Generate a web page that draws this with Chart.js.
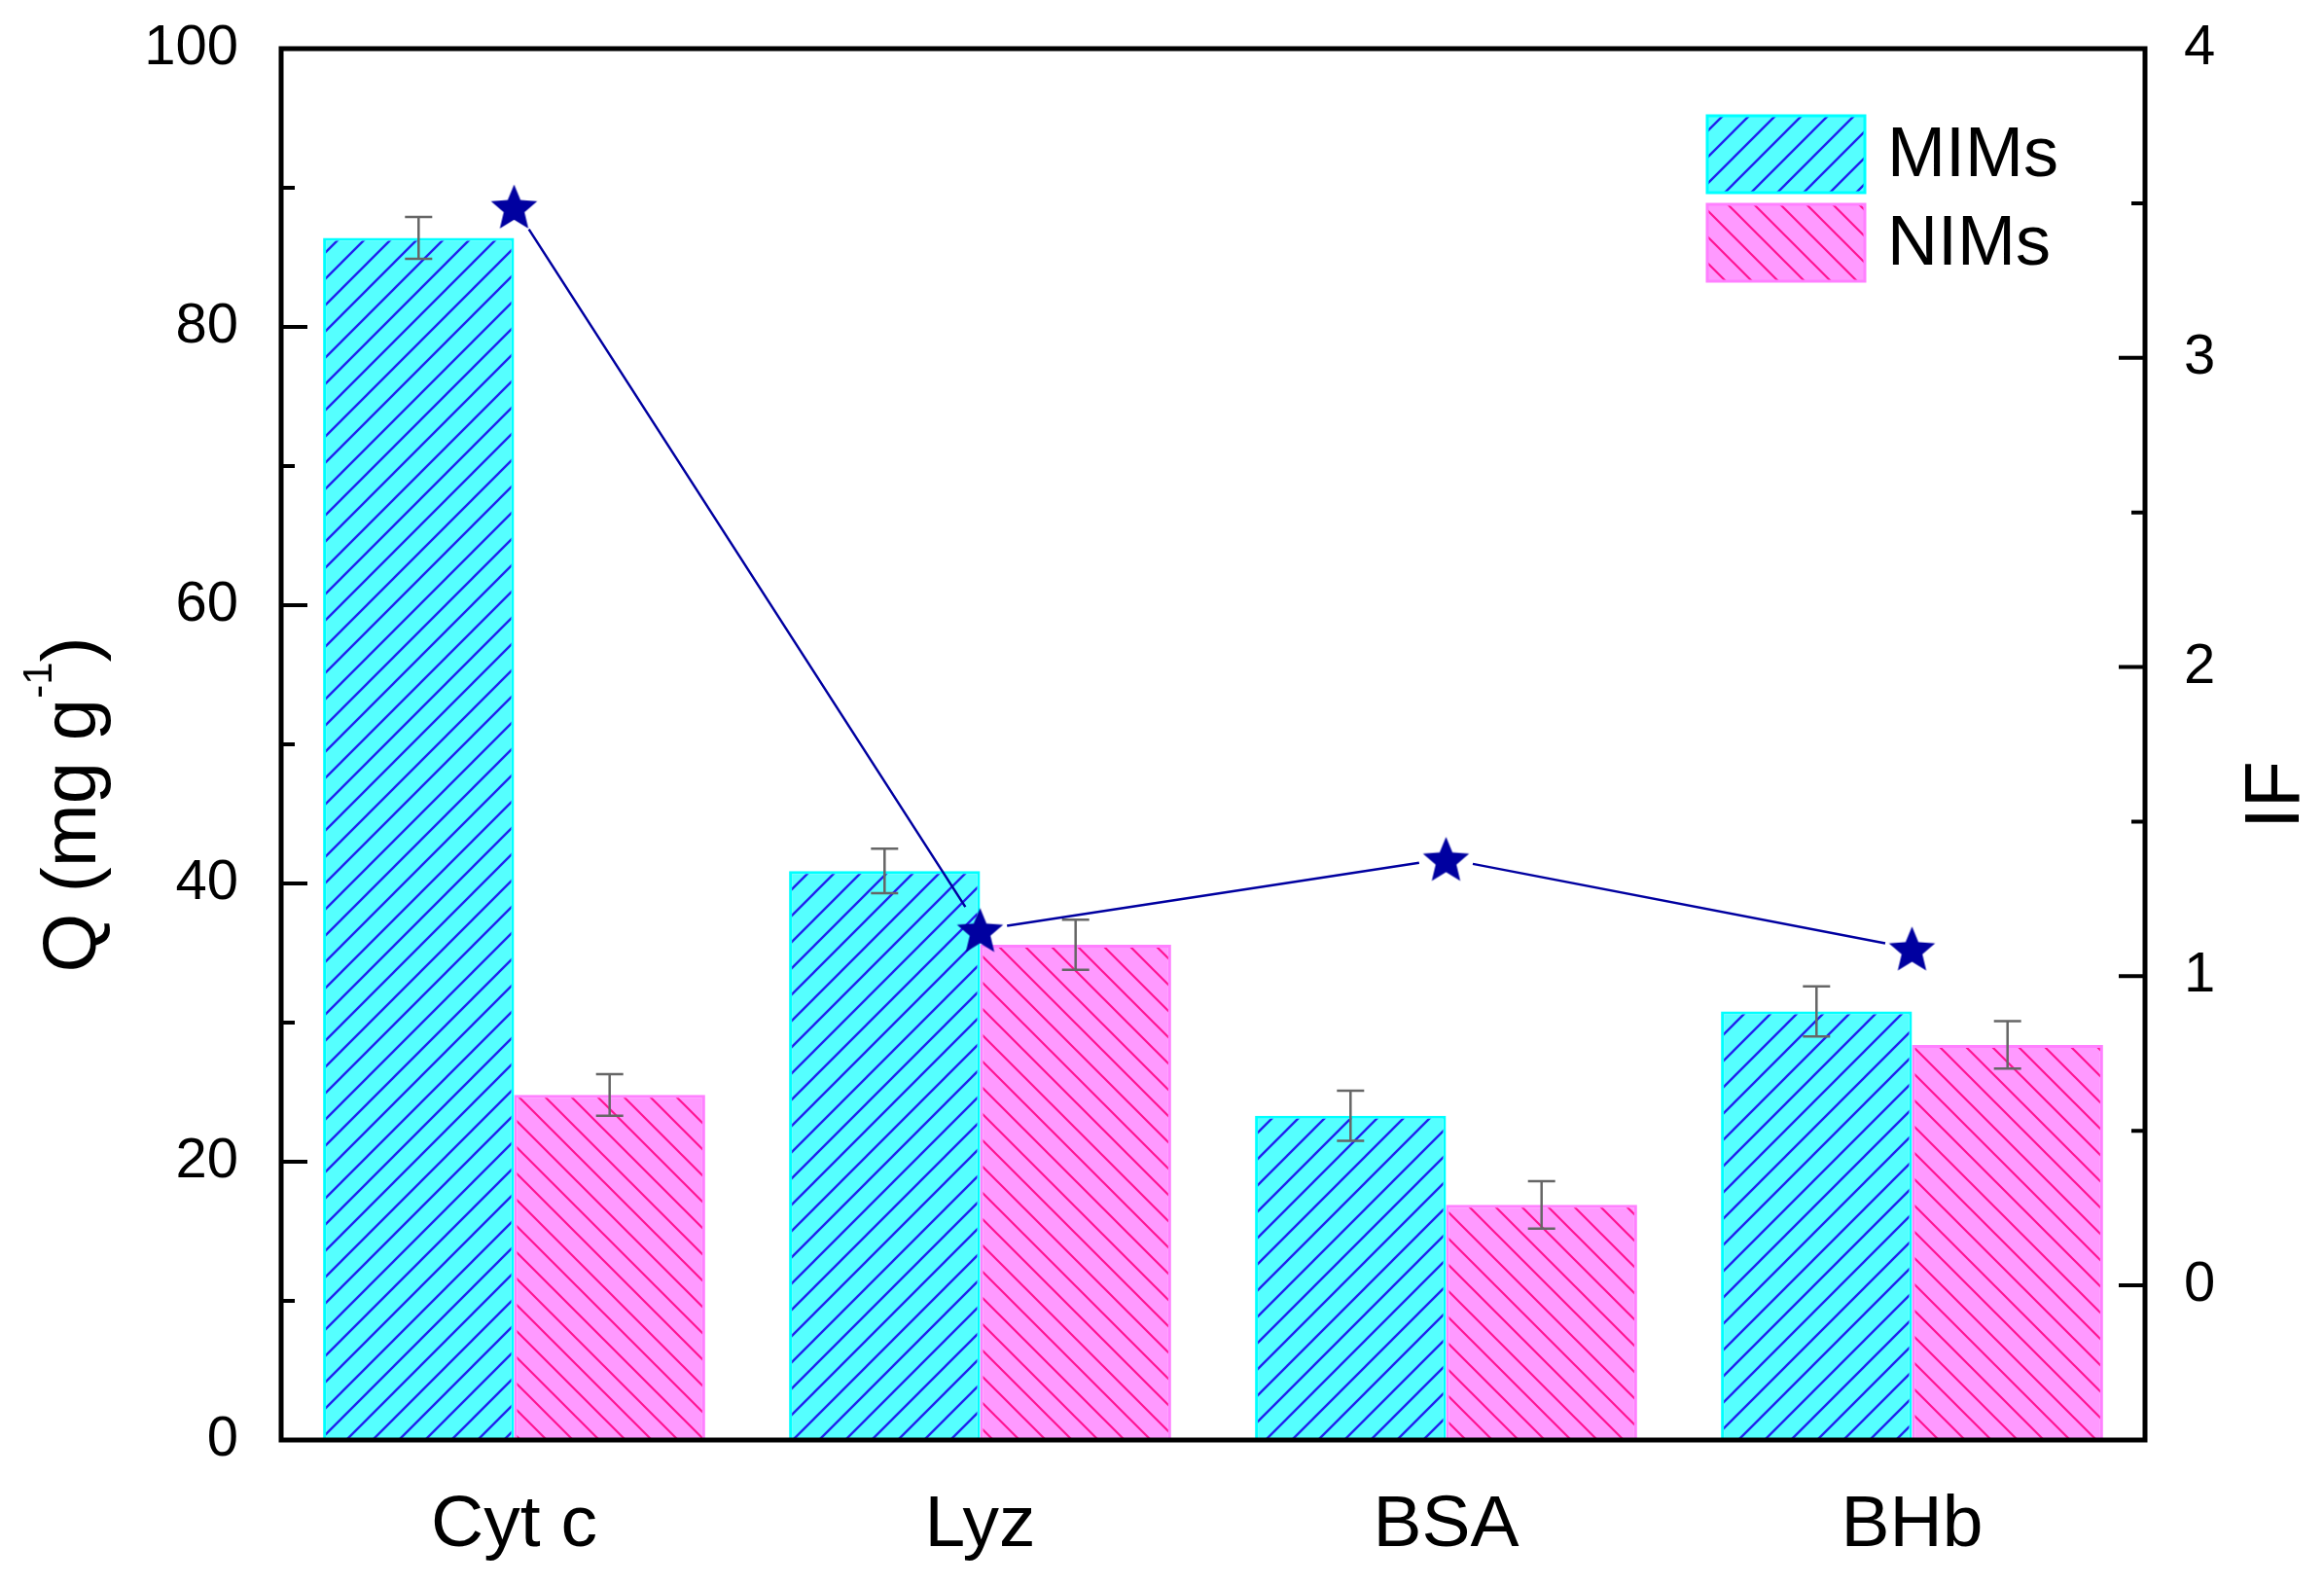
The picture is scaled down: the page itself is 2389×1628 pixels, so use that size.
<!DOCTYPE html>
<html>
<head>
<meta charset="utf-8">
<script src="https://cdn.jsdelivr.net/npm/chart.js@4.4.0/dist/chart.umd.min.js"></script>
<style>
html, body { margin: 0; padding: 0; background: #fff; }
#wrap { width: 2389px; height: 1628px; }
</style>
</head>
<body>
<div id="wrap"><canvas id="chart"></canvas></div>
<script>
const proteins = ['Cyt c', 'Lyz', 'BSA', 'BHb'];
const mimsQ = [86.4, 40.9, 23.3, 30.8];
const mimsErr = [1.5, 1.6, 1.8, 1.8];
const nimsQ = [24.8, 35.6, 16.9, 28.4];
const nimsErr = [1.5, 1.8, 1.7, 1.7];
const imprintFactor = [3.49, 1.15, 1.38, 1.09];
const qTicks = [0, 20, 40, 60, 80, 100];
const qMinor = [10, 30, 50, 70, 90];
const ifTicks = [0, 1, 2, 3, 4];
const ifMinor = [0.5, 1.5, 2.5, 3.5];

const fam = '"Liberation Sans", Arial, sans-serif';
const canvas = document.getElementById('chart');
const ctx = canvas.getContext('2d');

// diagonal hatch tile, dir 1 = "/", -1 = "\"
function hatch(bg, fg, dir, lw) {
    const s = 27;
    const c = document.createElement('canvas');
    c.width = s;
    c.height = s;
    const g = c.getContext('2d');
    g.fillStyle = bg;
    g.fillRect(0, 0, s, s);
    g.strokeStyle = fg;
    g.lineWidth = lw;
    g.beginPath();
    if (dir > 0) {
        g.moveTo(-3, s + 3); g.lineTo(s + 3, -3);
        g.moveTo(-3, 3); g.lineTo(3, -3);
        g.moveTo(s - 3, s + 3); g.lineTo(s + 3, s - 3);
    } else {
        g.moveTo(-3, -3); g.lineTo(s + 3, s + 3);
        g.moveTo(s - 3, -3); g.lineTo(s + 3, 3);
        g.moveTo(-3, s - 3); g.lineTo(3, s + 3);
    }
    g.stroke();
    return ctx.createPattern(c, 'repeat');
}

function starImage(r, color) {
    const size = Math.ceil(r * 2 + 4);
    const c = document.createElement('canvas');
    c.width = size;
    c.height = size;
    const g = c.getContext('2d');
    g.translate(size / 2, size / 2 + r * 0.1);
    g.beginPath();
    for (let i = 0; i < 10; i++) {
        const rad = i % 2 === 0 ? r : r * 0.45;
        const a = -Math.PI / 2 + i * Math.PI / 5;
        g.lineTo(rad * Math.cos(a), rad * Math.sin(a));
    }
    g.closePath();
    g.fillStyle = color;
    g.fill();
    return c;
}

const mimsFill = hatch('#55FFFF', '#2222EE', 1, 2.4);
const nimsFill = hatch('#FF99FF', '#FF1493', -1, 2.2);

const decor = {
    id: 'decor',
    afterDatasetsDraw(chart) {
        const c = chart.ctx;
        const y = chart.scales.y;
        c.save();
        c.strokeStyle = '#666666';
        c.lineWidth = 2.5;
        chart.data.datasets.forEach((ds, di) => {
            if (!ds.errors) return;
            const meta = chart.getDatasetMeta(di);
            meta.data.forEach((bar, i) => {
                const v = ds.data[i], e = ds.errors[i];
                const y1 = y.getPixelForValue(v + e);
                const y2 = y.getPixelForValue(v - e);
                c.beginPath();
                c.moveTo(bar.x, y1); c.lineTo(bar.x, y2);
                c.moveTo(bar.x - 14, y1); c.lineTo(bar.x + 14, y1);
                c.moveTo(bar.x - 14, y2); c.lineTo(bar.x + 14, y2);
                c.stroke();
            });
        });

        // IF line with a gap round each star, Origin style
        chart.data.datasets.forEach((ds, di) => {
            if (ds.type !== 'line') return;
            const pts = chart.getDatasetMeta(di).data;
            const gap = 28;
            c.strokeStyle = ds.borderColor;
            c.lineWidth = 2.5;
            c.beginPath();
            for (let i = 0; i < pts.length - 1; i++) {
                const p = pts[i], q = pts[i + 1];
                const dx = q.x - p.x, dy = q.y - p.y;
                const len = Math.hypot(dx, dy);
                const ux = dx / len, uy = dy / len;
                c.moveTo(p.x + ux * gap, p.y + uy * gap);
                c.lineTo(q.x - ux * gap, q.y - uy * gap);
            }
            c.stroke();
        });
        c.restore();
    },
    afterDraw(chart) {
        const c = chart.ctx;
        const a = chart.chartArea;
        const yl = chart.scales.y;
        const yr = chart.scales.y2;
        c.save();
        c.strokeStyle = '#000';
        c.lineWidth = 5;
        c.lineJoin = 'miter';
        c.strokeRect(a.left, a.top, a.right - a.left, a.bottom - a.top);

        // inward ticks
        c.lineWidth = 4;
        c.beginPath();
        qTicks.forEach(v => { const p = yl.getPixelForValue(v); c.moveTo(a.left, p); c.lineTo(a.left + 27, p); });
        qMinor.forEach(v => { const p = yl.getPixelForValue(v); c.moveTo(a.left, p); c.lineTo(a.left + 14, p); });
        ifTicks.forEach(v => { const p = yr.getPixelForValue(v); c.moveTo(a.right, p); c.lineTo(a.right - 27, p); });
        ifMinor.forEach(v => { const p = yr.getPixelForValue(v); c.moveTo(a.right, p); c.lineTo(a.right - 14, p); });
        c.stroke();

        // axis titles
        c.fillStyle = '#000';
        c.textBaseline = 'alphabetic';
        c.textAlign = 'left';
        const t1 = 'Q (mg g', sup = '-1', t2 = ')';
        c.font = '78px ' + fam;
        const w1 = c.measureText(t1).width;
        const w3 = c.measureText(t2).width;
        c.font = '42px ' + fam;
        const w2 = c.measureText(sup).width;
        c.save();
        c.translate(98, 827);
        c.rotate(-Math.PI / 2);
        const x0 = -(w1 + w2 + w3) / 2;
        c.font = '78px ' + fam;
        c.fillText(t1, x0, 0);
        c.fillText(t2, x0 + w1 + w2, 0);
        c.font = '42px ' + fam;
        c.fillText(sup, x0 + w1, -45);
        c.restore();

        c.save();
        c.translate(2363, 817);
        c.rotate(-Math.PI / 2);
        c.textAlign = 'center';
        c.font = '79px ' + fam;
        c.fillText('IF', 0, 0);
        c.restore();

        // legend
        const bars = chart.data.datasets.filter(ds => ds.type === 'bar');
        bars.forEach((ds, i) => {
            const bx = 1755, by = 119 + i * 91, bw = 162, bh = 79;
            c.fillStyle = ds.backgroundColor;
            c.fillRect(bx, by, bw, bh);
            c.strokeStyle = ds.borderColor;
            c.lineWidth = 3;
            c.strokeRect(bx, by, bw, bh);
            c.fillStyle = '#000';
            c.font = '72px ' + fam;
            c.textBaseline = 'middle';
            c.textAlign = 'left';
            c.fillText(ds.label, 1940, by + bh / 2 + 3);
        });
        c.restore();
    }
};

new Chart(canvas, {
    data: {
        labels: proteins,
        datasets: [
            {
                type: 'line',
                label: 'IF',
                data: imprintFactor,
                yAxisID: 'y2',
                borderColor: '#0000A0',
                borderWidth: 2.5,
                showLine: false,
                pointStyle: starImage(25, '#0000A0'),
                pointRadius: 25,
                fill: false,
                order: 0
            },
            {
                type: 'bar',
                label: 'MIMs',
                data: mimsQ,
                errors: mimsErr,
                yAxisID: 'y',
                backgroundColor: mimsFill,
                borderColor: '#00FFFF',
                borderWidth: 3,
                categoryPercentage: 0.82,
                barPercentage: 1.0,
                order: 1
            },
            {
                type: 'bar',
                label: 'NIMs',
                data: nimsQ,
                errors: nimsErr,
                yAxisID: 'y',
                backgroundColor: nimsFill,
                borderColor: '#FF80FF',
                borderWidth: 3,
                categoryPercentage: 0.82,
                barPercentage: 1.0,
                order: 1
            }
        ]
    },
    options: {
        responsive: true,
        maintainAspectRatio: false,
        animation: false,
        layout: { padding: { top: 50, left: 0, right: 0, bottom: 0 } },
        plugins: {
            legend: { display: false },
            tooltip: { enabled: false }
        },
        scales: {
            x: {
                offset: true,
                grid: { display: false },
                border: { display: false },
                ticks: { color: '#000', padding: 35, font: { family: fam, size: 75 } },
                afterFit: s => { s.height = 148; }
            },
            y: {
                position: 'left',
                min: 0,
                max: 100,
                grid: { display: false },
                border: { display: false },
                ticks: { color: '#000', padding: 36, font: { family: fam, size: 58 } },
                afterBuildTicks: s => { s.ticks = qTicks.map(v => ({ value: v })); },
                afterFit: s => { s.width = 289; s.paddingTop = 0; s.paddingBottom = 0; }
            },
            y2: {
                position: 'right',
                min: -0.5,
                max: 4,
                grid: { display: false },
                border: { display: false },
                ticks: { color: '#000', padding: 32, font: { family: fam, size: 58 } },
                afterBuildTicks: s => { s.ticks = ifTicks.map(v => ({ value: v })); },
                afterFit: s => { s.width = 184; s.paddingTop = 0; s.paddingBottom = 0; }
            }
        }
    },
    plugins: [decor]
});
</script>
</body>
</html>
